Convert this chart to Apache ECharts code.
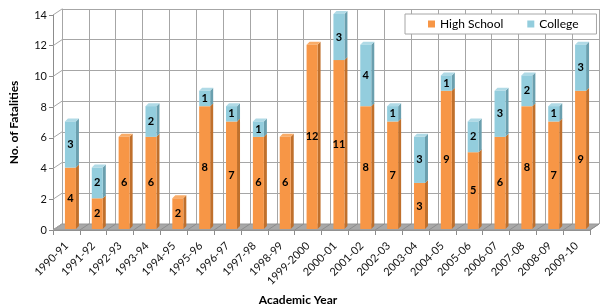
<!DOCTYPE html>
<html>
<head>
<meta charset="utf-8">
<script src="https://cdn.jsdelivr.net/npm/echarts@6/dist/echarts.min.js"></script>
<style>
  html, body { margin: 0; padding: 0; background: #fff; }
  #chart { width: 607px; height: 308px; }
</style>
</head>
<body>
<div id="chart"></div>
<script>
// data
var years = ['1990-91', '1991-92', '1992-93', '1993-94', '1994-95', '1995-96', '1996-97',
  '1997-98', '1998-99', '1999-2000', '2000-01', '2001-02', '2002-03', '2003-04',
  '2004-05', '2005-06', '2006-07', '2007-08', '2008-09', '2009-10']
var highSchool = [4, 2, 6, 6, 2, 8, 7, 6, 6, 12, 11, 8, 7, 3, 9, 5, 6, 8, 7, 9]
var college = [3, 2, 0, 2, 0, 1, 1, 1, 0, 0, 3, 4, 1, 3, 1, 2, 3, 2, 1, 3]
var yTicks = [0, 2, 4, 6, 8, 10, 12, 14]

var orange = '#F79646', orangeSide = '#C0702C', orangeTop = '#F9AC68'
var blue = '#93CDDD', blueSide = '#6A9FAE', blueTop = '#B0DAE6'
var DX = 9, DY = -6   // depth of the walls
var gridLine = '#A6A6A6'

var myChart = echarts.init(document.getElementById('chart'))

function floorItem (params, api) {
  var cs = params.coordSys
  var x = cs.x, y = cs.y, w = cs.width, h = cs.height
  var bw = w / years.length
  var children = [{
    type: 'polygon',
    shape: { points: [[x, y + h], [x + w, y + h], [x + w + DX, y + h + DY], [x + DX, y + h + DY]] },
    style: { fill: '#A8A8A8', stroke: '#969696', lineWidth: 1 }
  }]
  for (var k = 0; k <= years.length; k++) {
    var xx = x + k * bw
    children.push({
      type: 'line',
      shape: { x1: xx, y1: y + h, x2: xx + DX, y2: y + h + DY },
      style: { stroke: '#8C8C8C', lineWidth: 1 }
    })
  }
  yTicks.forEach(function (v) {
    var yy = api.coord([0, v])[1]
    children.push({
      type: 'line',
      shape: { x1: x, y1: yy, x2: x + DX, y2: yy + DY },
      style: { stroke: gridLine, lineWidth: 1 }
    })
  })
  return { type: 'group', children: children }
}

function barDepth (params, api) {
  var i = api.value(0), hs = api.value(1), c = api.value(2)
  var base = api.coord([i, 0])
  var pH = api.coord([i, hs])
  var pT = api.coord([i, hs + c])
  var w = 5.5, d = 3
  var xl = base[0] - w, xr = base[0] + w
  var children = []
  function side (yTop, yBot, color) {
    children.push({
      type: 'polygon',
      shape: { points: [[xr, yTop], [xr + d, yTop - d], [xr + d, yBot - d], [xr, yBot]] },
      style: { fill: color }
    })
  }
  if (hs > 0) side(pH[1], base[1], orangeSide)
  if (c > 0) side(pT[1], pH[1], blueSide)
  children.push({
    type: 'polygon',
    shape: { points: [[xl, pT[1]], [xl + d, pT[1] - d], [xr + d, pT[1] - d], [xr, pT[1]]] },
    style: { fill: c > 0 ? blueTop : orangeTop }
  })
  return { type: 'group', children: children }
}

var labelStyle = {
  show: true,
  position: 'inside',
  color: '#000',
  fontWeight: 'bold',
  fontSize: 11,
  formatter: function (p) { return p.value > 0 ? p.value : '' }
}

var option = {
  animation: false,
  textStyle: { fontFamily: 'Lato' },
  legend: {
    data: ['High School', 'College'],
    left: 405,
    top: 14,
    padding: [4, 18, 4, 23],
    itemGap: 24,
    itemWidth: 7,
    itemHeight: 7,
    icon: 'rect',
    borderColor: '#A6A6A6',
    borderWidth: 1,
    backgroundColor: '#fff',
    textStyle: { fontSize: 12, color: '#000', fontFamily: 'Lato' }
  },
  grid: [
    { left: 62, right: 8, top: 9, bottom: 84 },   // back wall
    { left: 53, right: 17, top: 15, bottom: 78 },  // front axes
    { left: 57, right: 13, top: 14, bottom: 79 }   // bars
  ],
  xAxis: [
    {
      gridIndex: 0, type: 'category', data: years,
      axisLine: { show: false }, axisTick: { show: false, interval: 0 }, axisLabel: { show: false, interval: 0 },
      splitLine: { show: true, interval: 0, lineStyle: { color: gridLine, width: 1 } }
    },
    {
      gridIndex: 1, type: 'category', data: years,
      axisLine: { show: true, lineStyle: { color: '#8C8C8C' } },
      axisTick: { show: true, interval: 0, length: 5, lineStyle: { color: '#8C8C8C' } },
      axisLabel: { rotate: 45, fontSize: 11, color: '#111', margin: 14, interval: 0 },
      splitLine: { show: false }
    },
    {
      gridIndex: 2, type: 'category', data: years,
      axisLine: { show: false }, axisTick: { show: false }, axisLabel: { show: false },
      splitLine: { show: false }
    }
  ],
  yAxis: [
    {
      gridIndex: 0, type: 'value', min: 0, max: 14, interval: 2,
      axisLine: { show: true, lineStyle: { color: gridLine } },
      axisTick: { show: false }, axisLabel: { show: false },
      splitLine: { show: true, lineStyle: { color: gridLine, width: 1 } }
    },
    {
      gridIndex: 1, type: 'value', min: 0, max: 14, interval: 2,
      name: 'No. of Fatalities',
      nameLocation: 'middle',
      nameGap: 33,
      nameTextStyle: { fontSize: 12, fontWeight: 'bold', color: '#000' },
      axisLine: { show: true, lineStyle: { color: '#8C8C8C' } },
      axisTick: { show: true, length: 4, lineStyle: { color: '#8C8C8C' } },
      axisLabel: { fontSize: 11, color: '#111', margin: 6 },
      splitLine: { show: false }
    },
    {
      gridIndex: 2, type: 'value', min: 0, max: 14, interval: 2,
      axisLine: { show: false }, axisTick: { show: false }, axisLabel: { show: false },
      splitLine: { show: false }
    }
  ],
  graphic: [{
    type: 'text',
    x: 298,
    y: 300,
    style: {
      text: 'Academic Year',
      font: 'bold 12px Lato',
      fill: '#000',
      textAlign: 'center',
      textVerticalAlign: 'middle'
    }
  }],
  series: [
    {
      type: 'custom',
      xAxisIndex: 1, yAxisIndex: 1,
      silent: true, z: 1,
      renderItem: floorItem,
      data: [[0, 0]]
    },
    {
      name: 'High School',
      type: 'bar', stack: 'total',
      xAxisIndex: 2, yAxisIndex: 2,
      barWidth: 11, z: 3,
      itemStyle: { color: orange },
      label: labelStyle,
      data: highSchool
    },
    {
      name: 'College',
      type: 'bar', stack: 'total',
      xAxisIndex: 2, yAxisIndex: 2,
      barWidth: 11, z: 3,
      itemStyle: { color: blue },
      label: labelStyle,
      data: college
    },
    {
      type: 'custom',
      xAxisIndex: 2, yAxisIndex: 2,
      silent: true, z: 3,
      renderItem: barDepth,
      encode: { x: 0, y: 1 },
      data: years.map(function (y, i) { return [i, highSchool[i], college[i]] })
    }
  ]
}

myChart.setOption(option)
</script>
</body>
</html>
